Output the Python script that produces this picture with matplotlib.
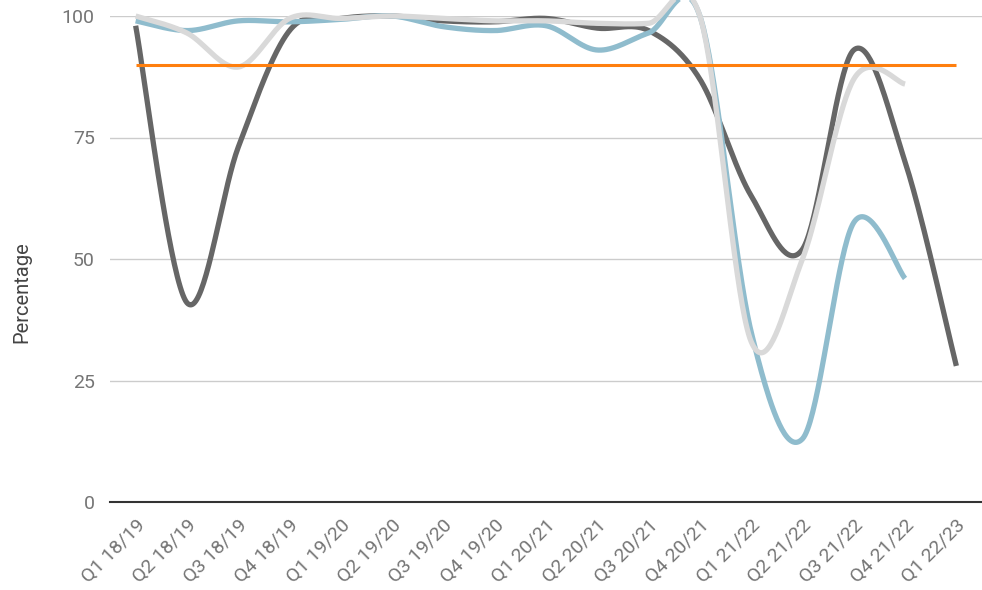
import numpy as np
import matplotlib
matplotlib.use("Agg")
import matplotlib.pyplot as plt
import matplotlib.transforms as mtransforms

categories = ["Q1 18/19", "Q2 18/19", "Q3 18/19", "Q4 18/19", "Q1 19/20", "Q2 19/20",
              "Q3 19/20", "Q4 19/20", "Q1 20/21", "Q2 20/21", "Q3 20/21", "Q4 20/21",
              "Q1 21/22", "Q2 21/22", "Q3 21/22", "Q4 21/22", "Q1 22/23"]
series_dark = [98, 41, 73, 97, 99.5, 100, 99, 98.8, 99.5, 97.5, 97, 87, 63, 52, 93, 70, 28]
series_blue = [99, 97, 99, 98.8, 99.3, 100, 97.8, 97, 98, 93, 96.5, 100, 35, 13, 57.5, 46]
series_light = [100, 96.5, 89.5, 99.5, 99.5, 100, 99.5, 99, 99, 98.5, 98.5, 100, 33, 50, 87, 86]
target = 90
yticks = [0, 25, 50, 75, 100]

plt.rcParams['font.family'] = ['Roboto', 'DejaVu Sans']


def smooth(x, y, n=40, tension=0.5):
    x = np.asarray(x, float)
    y = np.asarray(y, float)
    px, py = [], []
    m = len(x)
    for i in range(m - 1):
        x0, y0 = (x[i - 1], y[i - 1]) if i > 0 else (x[i], y[i])
        x3, y3 = (x[i + 2], y[i + 2]) if i + 2 < m else (x[i + 1], y[i + 1])
        x1, y1, x2, y2 = x[i], y[i], x[i + 1], y[i + 1]
        t = np.linspace(0, 1, n, endpoint=(i == m - 2))
        m1x, m1y = tension * (x2 - x0), tension * (y2 - y0)
        m2x, m2y = tension * (x3 - x1), tension * (y3 - y1)
        h00 = 2 * t**3 - 3 * t**2 + 1
        h10 = t**3 - 2 * t**2 + t
        h01 = -2 * t**3 + 3 * t**2
        h11 = t**3 - t**2
        px.append(h00 * x1 + h10 * m1x + h01 * x2 + h11 * m2x)
        py.append(h00 * y1 + h10 * m1y + h01 * y2 + h11 * m2y)
    return np.concatenate(px), np.concatenate(py)


fig = plt.figure(figsize=(9.82, 5.9), dpi=100)
ax = fig.add_axes([110 / 982, 88 / 590, 872 / 982, 486 / 590])

xs = np.arange(len(categories))
lw = 3.8
for data, color, z in [(series_dark, "#666666", 3), (series_blue, "#8fbccd", 4), (series_light, "#d9d9d9", 5)]:
    x = xs[:len(data)]
    sx, sy = smooth(x, data)
    ax.plot(sx, sy, color=color, lw=lw, zorder=z, clip_on=False, solid_capstyle="butt")

ax.plot([xs[0], xs[-1]], [target, target], color="#ff7f0e", lw=2.2, zorder=6, solid_capstyle="butt")

ax.set_xlim(-0.5, len(categories) - 0.5)
ax.set_ylim(0, 100)
ax.set_yticks(yticks)
ax.set_yticklabels([str(v) for v in yticks], fontsize=14, color="#757575")
ax.set_xticks(xs)
ax.set_xticklabels(categories, rotation=45, ha="right", rotation_mode="anchor",
                   fontsize=14, color="#757575")
offset = mtransforms.ScaledTranslation(14 / 100, 0, fig.dpi_scale_trans)
for lab in ax.get_xticklabels():
    lab.set_transform(lab.get_transform() + offset)
ax.tick_params(axis="y", length=0, pad=11)
ax.tick_params(axis="x", length=0, pad=10)
ax.grid(axis="y", color="#cccccc", lw=1)
ax.set_axisbelow(True)
for s in ["top", "right", "left"]:
    ax.spines[s].set_visible(False)
ax.spines["bottom"].set_color("#333333")
ax.spines["bottom"].set_linewidth(1.5)
ax.spines["bottom"].set_zorder(10)
fig.text(22 / 982, 1 - 292 / 590, "Percentage", rotation=90, fontsize=14.5,
         color="#444444", ha="center", va="center")

fig.savefig("out.png", dpi=100)
